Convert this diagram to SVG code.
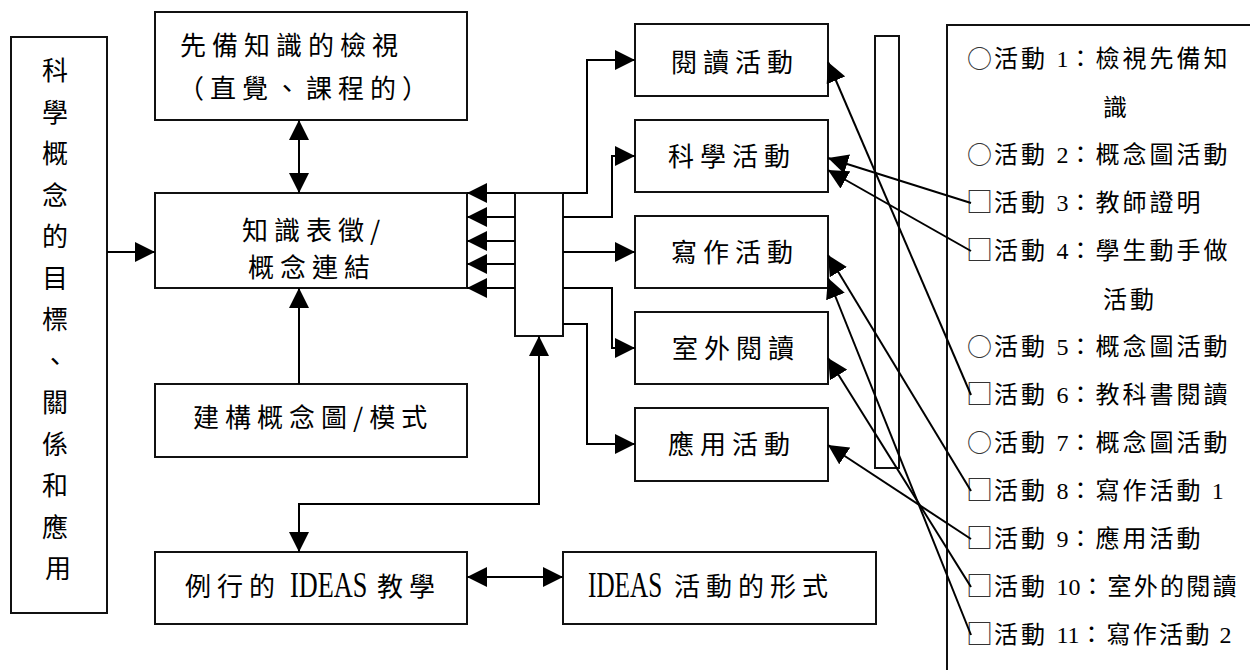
<svg xmlns="http://www.w3.org/2000/svg" width="1250" height="670" viewBox="0 0 1250 670">
  <style>
    .box { fill: #fff; stroke: #111; stroke-width: 2; }
    .wire { fill: none; stroke: #000; stroke-width: 2; }
    .t { font-family: "Noto Sans CJK TC", "Noto Sans CJK JP", sans-serif; font-size: 26px; letter-spacing: 6px; fill: #000; }
    .latin { font-family: "Liberation Serif", serif; font-size: 35px; fill: #000; }
    .li { font-family: "Noto Sans CJK TC", "Noto Sans CJK JP", sans-serif; font-size: 24px; letter-spacing: 3px; fill: #000; }
    .li2 { letter-spacing: 2.3px; }
    .sym { font-size: 25px; letter-spacing: 0; fill: #333; }
    .sq { font-size: 27px; letter-spacing: 0; fill: #333; }
    .num { font-family: "Liberation Serif", serif; font-size: 24px; letter-spacing: 0; }
  </style>
  <defs>
    <marker id="ah" viewBox="0 0 20 20" refX="20" refY="10" markerWidth="20" markerHeight="20" markerUnits="userSpaceOnUse" orient="auto-start-reverse">
      <path d="M0,0 L20,10 L0,20 z" fill="#000"/>
    </marker>
  </defs>

  <rect width="1250" height="670" fill="#fff"/>

  <!-- goal column, written top to bottom -->
  <g id="goals">
    <rect class="box" x="11" y="37" width="96" height="576"/>
    <text class="t" text-anchor="middle" style="letter-spacing:0">
      <tspan x="58" y="80">科</tspan>
      <tspan x="58" y="121.5">學</tspan>
      <tspan x="58" y="163">概</tspan>
      <tspan x="58" y="204.5">念</tspan>
      <tspan x="58" y="246">的</tspan>
      <tspan x="58" y="287.5">目</tspan>
      <tspan x="58" y="329">標</tspan>
      <tspan x="58" y="370.5">、</tspan>
      <tspan x="58" y="412">關</tspan>
      <tspan x="58" y="453.5">係</tspan>
      <tspan x="58" y="495">和</tspan>
      <tspan x="58" y="536.5">應</tspan>
      <tspan x="58" y="578">用</tspan>
    </text>
  </g>

  <g id="prior-knowledge">
    <rect class="box" x="155" y="12" width="312" height="108"/>
    <text class="t" x="180" y="55">先備知識的檢視</text>
    <text class="t" x="178" y="98">（直覺、課程的）</text>
  </g>

  <g id="representation">
    <rect class="box" x="155" y="193" width="312" height="95"/>
    <text class="t" x="242" y="240">知識表徵/</text>
    <text class="t" x="248" y="277">概念連結</text>
  </g>

  <g id="concept-map">
    <rect class="box" x="155" y="384" width="312" height="73"/>
    <text class="t" x="193" y="427">建構概念圖/模式</text>
  </g>

  <!-- the Latin word uses a narrowed serif face -->
  <g id="routine">
    <rect class="box" x="155" y="552" width="312" height="72"/>
    <text class="t" x="185" y="596">例行的</text>
    <text class="latin" transform="translate(290,597) scale(0.75,1)">IDEAS</text>
    <text class="t" x="377" y="596">教學</text>
  </g>

  <g id="ideas-forms">
    <rect class="box" x="563" y="552" width="313" height="72"/>
    <text class="latin" transform="translate(588,597) scale(0.72,1)">IDEAS</text>
    <text class="t" x="674" y="596">活動的形式</text>
  </g>

  <g id="hub">
    <rect class="box" x="515" y="193" width="48" height="143"/>
  </g>

  <g id="reading">
    <rect class="box" x="635" y="24" width="193" height="72"/>
    <text class="t" x="671" y="72">閱讀活動</text>
  </g>
  <g id="science">
    <rect class="box" x="635" y="120" width="193" height="72"/>
    <text class="t" x="668" y="166">科學活動</text>
  </g>
  <g id="writing">
    <rect class="box" x="635" y="216" width="193" height="72"/>
    <text class="t" x="671" y="262">寫作活動</text>
  </g>
  <g id="outdoor">
    <rect class="box" x="635" y="312" width="193" height="72"/>
    <text class="t" x="672" y="358">室外閱讀</text>
  </g>
  <g id="application">
    <rect class="box" x="635" y="408" width="193" height="73"/>
    <text class="t" x="668" y="454">應用活動</text>
  </g>

  <g id="bar">
    <rect class="box" x="875" y="36" width="24" height="432"/>
  </g>

  <!-- activity sequence list -->
  <g id="activity-list">
    <path class="box" d="M1252,25 H947 V672" fill="none"/>
    <text class="li" y="67"><tspan class="sym" x="967" y="68">○</tspan><tspan x="994" y="67">活動 <tspan class="num">1</tspan>：檢視先備知</tspan></text>
    <text class="li" x="1103" y="116">識</text>
    <text class="li" y="163"><tspan class="sym" x="967" y="164">○</tspan><tspan x="994" y="163">活動 <tspan class="num">2</tspan>：概念圖活動</tspan></text>
    <text class="li" y="211"><tspan class="sq" x="966" y="212">□</tspan><tspan x="994" y="211">活動 <tspan class="num">3</tspan>：教師證明</tspan></text>
    <text class="li" y="259"><tspan class="sq" x="966" y="260">□</tspan><tspan x="994" y="259">活動 <tspan class="num">4</tspan>：學生動手做</tspan></text>
    <text class="li" x="1103" y="308">活動</text>
    <text class="li" y="355"><tspan class="sym" x="967" y="356">○</tspan><tspan x="994" y="355">活動 <tspan class="num">5</tspan>：概念圖活動</tspan></text>
    <text class="li" y="403"><tspan class="sq" x="966" y="404">□</tspan><tspan x="994" y="403">活動 <tspan class="num">6</tspan>：教科書閱讀</tspan></text>
    <text class="li" y="451"><tspan class="sym" x="967" y="452">○</tspan><tspan x="994" y="451">活動 <tspan class="num">7</tspan>：概念圖活動</tspan></text>
    <text class="li" y="499"><tspan class="sq" x="966" y="500">□</tspan><tspan x="994" y="499">活動 <tspan class="num">8</tspan>：寫作活動 <tspan class="num">1</tspan></tspan></text>
    <text class="li" y="547"><tspan class="sq" x="966" y="548">□</tspan><tspan x="994" y="547">活動 <tspan class="num">9</tspan>：應用活動</tspan></text>
    <text class="li" y="595"><tspan class="sq" x="966" y="596">□</tspan><tspan x="994" y="595">活動 <tspan class="num">10</tspan>：<tspan class="li2">室外的閱讀</tspan></tspan></text>
    <text class="li" y="643"><tspan class="sq" x="966" y="644">□</tspan><tspan x="994" y="643">活動 <tspan class="num">11</tspan>：<tspan class="li2">寫作活動 <tspan class="num">2</tspan></tspan></tspan></text>
  </g>

  <g id="connectors">
    <!-- left column into representation -->
    <path class="wire" d="M107,252 H155" marker-end="url(#ah)"/>
    <!-- prior knowledge <-> representation -->
    <path class="wire" d="M299,120 V193" marker-start="url(#ah)" marker-end="url(#ah)"/>
    <!-- concept map up into representation -->
    <path class="wire" d="M299,384 V288" marker-end="url(#ah)"/>
    <!-- hub feeding back into representation -->
    <path class="wire" d="M515,193 H467" marker-end="url(#ah)"/>
    <path class="wire" d="M515,217 H467" marker-end="url(#ah)"/>
    <path class="wire" d="M515,241 H467" marker-end="url(#ah)"/>
    <path class="wire" d="M515,264 H467" marker-end="url(#ah)"/>
    <path class="wire" d="M515,288 H467" marker-end="url(#ah)"/>
    <!-- hub out to activities -->
    <path class="wire" d="M563,193 H587 V60 H635" marker-end="url(#ah)"/>
    <path class="wire" d="M563,217 H612 V156 H635" marker-end="url(#ah)"/>
    <path class="wire" d="M563,252 H635" marker-end="url(#ah)"/>
    <path class="wire" d="M563,288 H612 V348 H635" marker-end="url(#ah)"/>
    <path class="wire" d="M563,324 H587 V444 H635" marker-end="url(#ah)"/>
    <!-- hub <-> routine teaching -->
    <path class="wire" d="M539,336 V504 H299 V552" marker-start="url(#ah)" marker-end="url(#ah)"/>
    <!-- routine <-> forms -->
    <path class="wire" d="M467,577 H563" marker-start="url(#ah)" marker-end="url(#ah)"/>
    <!-- list items to activity boxes -->
    <path class="wire" d="M971,395 L828,62" marker-end="url(#ah)"/>
    <path class="wire" d="M971,203 L828,158" marker-end="url(#ah)"/>
    <path class="wire" d="M971,251 L828,170" marker-end="url(#ah)"/>
    <path class="wire" d="M971,491 L828,255" marker-end="url(#ah)"/>
    <path class="wire" d="M971,635 L828,278" marker-end="url(#ah)"/>
    <path class="wire" d="M971,587 L828,358" marker-end="url(#ah)"/>
    <path class="wire" d="M971,539 L828,445" marker-end="url(#ah)"/>
  </g>
</svg>
